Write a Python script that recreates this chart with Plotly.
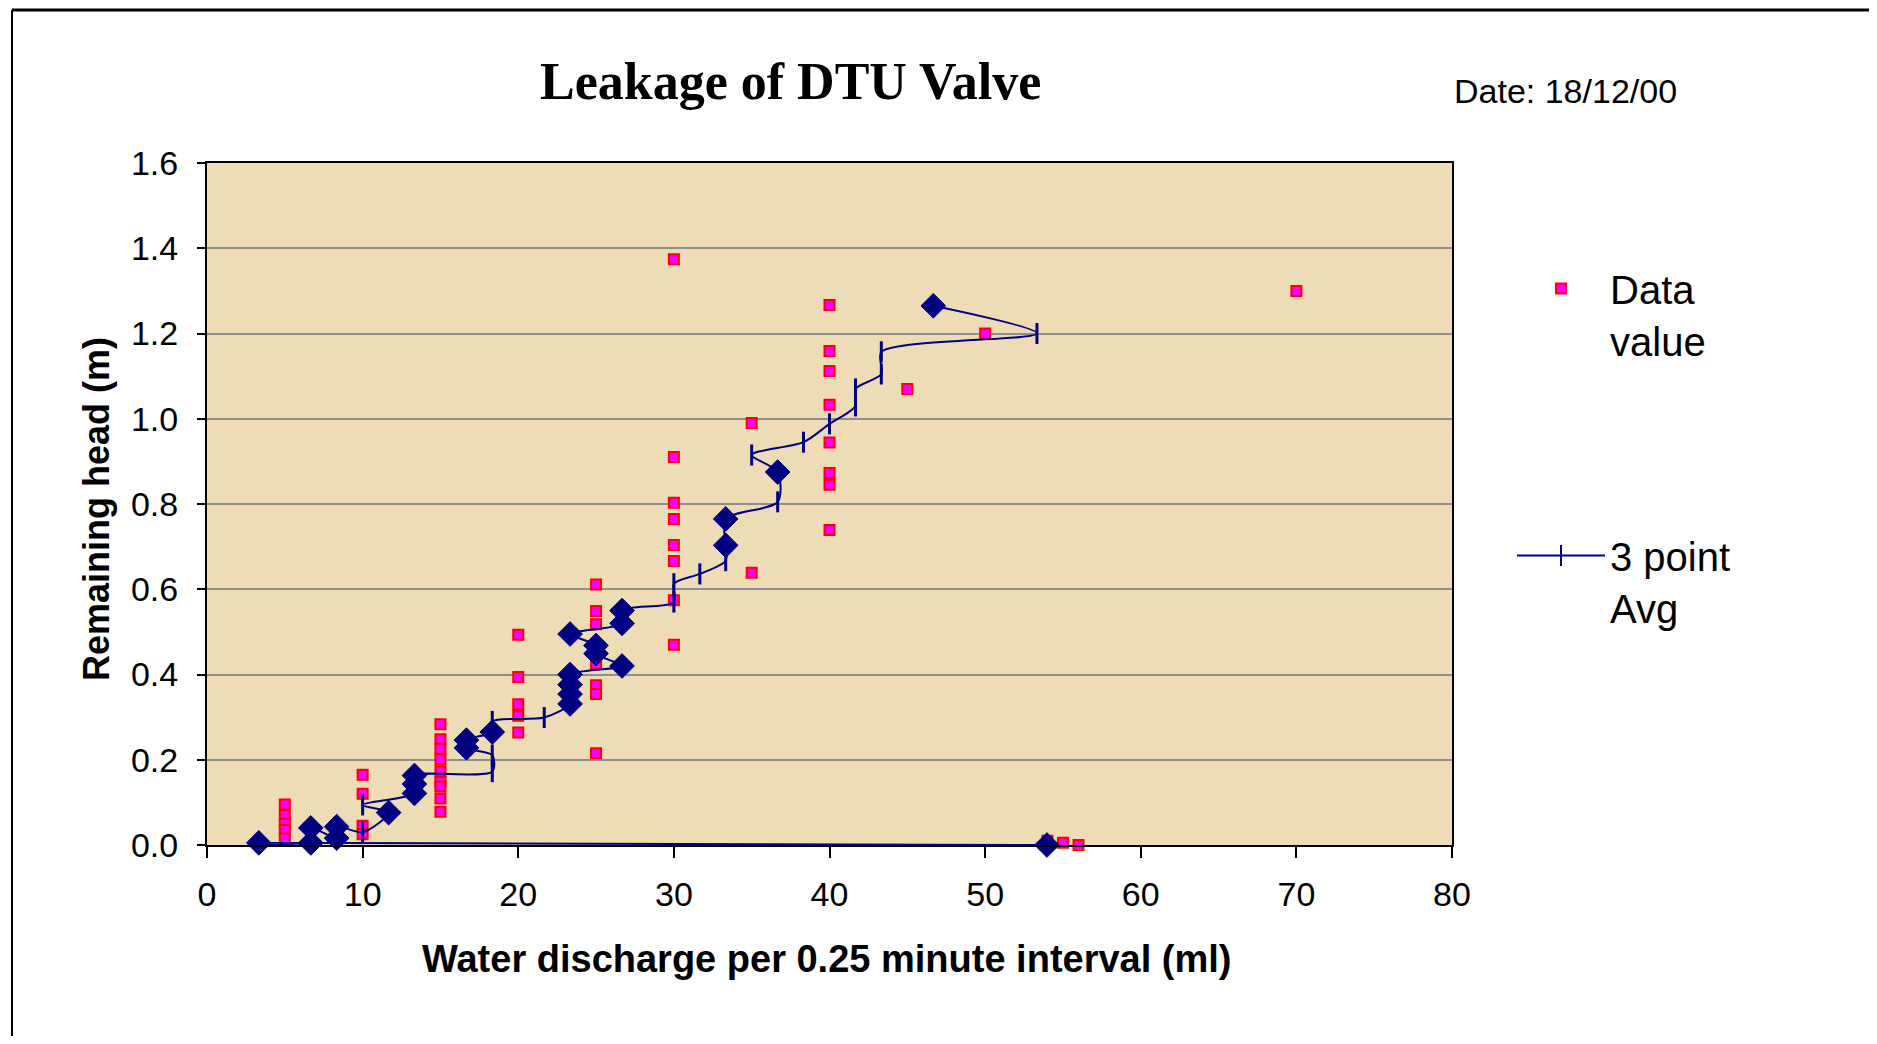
import plotly.graph_objects as go

# ---------------- data ----------------
# "Data value" series (discharge ml, remaining head m)
data_x = [5, 5, 5, 5, 5,
          10, 10, 10, 10,
          15, 15, 15, 15, 15, 15, 15, 15, 15,
          20, 20, 20, 20, 20,
          25, 25, 25, 25, 25, 25, 25,
          30, 30, 30, 30, 30, 30, 30, 30,
          35, 35,
          40, 40, 40, 40, 40, 40, 40, 40,
          45, 50, 54, 55, 56, 70]
data_y = [0.095, 0.070, 0.050, 0.035, 0.015,
          0.165, 0.120, 0.045, 0.025,
          0.283, 0.248, 0.226, 0.201, 0.173, 0.148, 0.137, 0.109, 0.078,
          0.493, 0.394, 0.330, 0.303, 0.264,
          0.611, 0.549, 0.518, 0.424, 0.375, 0.354, 0.215,
          1.374, 0.910, 0.803, 0.765, 0.704, 0.666, 0.574, 0.470,
          0.990, 0.639,
          1.267, 1.159, 1.112, 1.033, 0.944, 0.873, 0.845, 0.739,
          1.070, 1.200, 0.010, 0.005, 0.000, 1.300]

# "3 point Avg" series, in sequence order
avg_x = [46.67, 53.33, 43.33, 43.33, 41.67, 41.67, 40.00, 38.33, 35.00, 36.67,
         36.67, 33.33, 33.33, 33.33, 31.67, 30.00, 30.00, 26.67, 26.67, 23.33,
         25.00, 25.00, 26.67, 23.33, 23.33, 23.33, 23.33, 21.67, 18.33, 18.33,
         16.67, 16.67, 18.33, 18.33, 13.33, 13.33, 13.33, 10.00, 11.67, 10.00,
         8.33, 8.33, 6.67, 6.67, 3.33, 53.97]
avg_y = [1.265, 1.200, 1.157, 1.105, 1.070, 1.030, 0.988, 0.945, 0.915, 0.875,
         0.805, 0.765, 0.703, 0.667, 0.636, 0.613, 0.570, 0.550, 0.520, 0.495,
         0.468, 0.449, 0.420, 0.400, 0.376, 0.354, 0.331, 0.299, 0.290, 0.265,
         0.246, 0.228, 0.211, 0.172, 0.163, 0.143, 0.121, 0.094, 0.076, 0.030,
         0.043, 0.016, 0.040, 0.005, 0.005, 0.000]
# point kind: 'h' = highlighted point (diamond), 'n' = normal point
avg_kind = ['h', 'n', 'n', 'n', 'n', 'n', 'n', 'n', 'n', 'h',
            'n', 'h', 'h', 'n', 'n', 'n', 'n', 'h', 'h', 'h',
            'h', 'h', 'h', 'h', 'h', 'h', 'h', 'n', 'n', 'h',
            'h', 'h', 'n', 'n', 'h', 'h', 'h', 'n', 'h', 'n',
            'h', 'h', 'h', 'h', 'h', 'h']

x_ticks = [0, 10, 20, 30, 40, 50, 60, 70, 80]
y_ticks = [0.0, 0.2, 0.4, 0.6, 0.8, 1.0, 1.2, 1.4, 1.6]

# ---------------- style ----------------
NAVY = "#000080"
SANS = "Liberation Sans, Arial, sans-serif"
SERIF = "Liberation Serif, Times New Roman, serif"

OFF = 8                     # page body margin
W, H = 1877 - 2 * OFF, 1044 - 2 * OFF
L, R, T, B = 207 - OFF, 1452 - OFF, 163 - OFF, 845 - OFF  # plot area (figure px)


def px_x(p):                # page px -> paper
    return (p - OFF - L) / (R - L)


def px_y(p):
    return (B - (p - OFF)) / (B - T)


symbols = ['diamond' if k == 'h' else 'line-ns' for k in avg_kind]
sizes = [19 if k == 'h' else 15 for k in avg_kind]
lwidths = [1 if k == 'h' else 3 for k in avg_kind]

fig = go.Figure()

fig.add_trace(go.Scatter(
    x=data_x, y=data_y, mode='markers', name='Data<br>value',
    marker=dict(symbol='square', size=10, color='#FF00FF',
                line=dict(color='#FF0000', width=2)),
    cliponaxis=False, legendgroup='a', showlegend=True,
))

fig.add_trace(go.Scatter(
    x=avg_x, y=avg_y, mode='lines+markers', name='3 point<br>Avg',
    line=dict(color=NAVY, width=2, shape='spline', smoothing=0.8),
    marker=dict(symbol=symbols, size=sizes, color=NAVY, opacity=1,
                line=dict(color=NAVY, width=lwidths)),
    cliponaxis=False, showlegend=False,
))

# legend entry for the average line
fig.add_trace(go.Scatter(
    x=[None], y=[None], mode='lines+markers', name='3 point<br>Avg',
    line=dict(color=NAVY, width=2),
    marker=dict(symbol='line-ns', size=15, color=NAVY,
                line=dict(color=NAVY, width=2)),
    legendgroup='b', showlegend=True,
))

axis_common = dict(
    showline=True, linecolor='black', linewidth=2, mirror=True,
    ticks='outside', tickcolor='black', tickwidth=2,
    tickfont=dict(family=SANS, size=34, color='black'),
    zeroline=False,
)

fig.update_xaxes(
    range=[0, 80], tickvals=x_ticks, ticklen=11, showgrid=False,
    ticklabelstandoff=7, **axis_common)
fig.update_yaxes(
    range=[0, 1.6], tickvals=y_ticks, tickformat='.1f', ticklen=8,
    showgrid=True, gridcolor='#8E8E8E', gridwidth=1.5,
    ticklabelstandoff=12, **axis_common)

fig.update_layout(
    width=W, height=H,
    margin=dict(l=L, r=W - R, t=T, b=H - B, pad=0),
    paper_bgcolor='white', plot_bgcolor='#EEDCB6',
    font=dict(family=SANS, color='black'),
    showlegend=True,
    legend=dict(
        x=px_x(1512), y=px_y(256), xanchor='left', yanchor='top',
        font=dict(family=SANS, size=40, color='black'),
        valign='top', tracegroupgap=160, bgcolor='rgba(0,0,0,0)',
        itemwidth=88,
    ),
    annotations=[
        dict(text='<b>Leakage of DTU Valve</b>', x=px_x(790), y=px_y(81),
             xref='paper', yref='paper', showarrow=False,
             xanchor='center', yanchor='middle',
             font=dict(family=SERIF, size=52, color='black')),
        dict(text='Date: 18/12/00', x=px_x(1452), y=px_y(91),
             xref='paper', yref='paper', showarrow=False,
             xanchor='left', yanchor='middle',
             font=dict(family=SANS, size=34, color='black')),
        dict(text='<b>Water discharge per 0.25 minute interval (ml)</b>',
             x=px_x(827), y=px_y(959), xref='paper', yref='paper',
             showarrow=False, xanchor='center', yanchor='middle',
             font=dict(family=SANS, size=38, color='black')),
        dict(text='<b>Remaining head (m)</b>', x=px_x(96), y=px_y(509),
             xref='paper', yref='paper', showarrow=False, textangle=-90,
             xanchor='center', yanchor='middle',
             font=dict(family=SANS, size=36, color='black')),
    ],
    shapes=[
        dict(type='line', xref='paper', yref='paper',
             x0=px_x(12), x1=px_x(1877 + 10), y0=px_y(OFF + 2), y1=px_y(OFF + 2),
             line=dict(color='black', width=3)),
        dict(type='line', xref='paper', yref='paper',
             x0=px_x(12), x1=px_x(12), y0=px_y(OFF + 2), y1=px_y(1044 + 10),
             line=dict(color='black', width=2)),
    ],
)

fig.write_html("out.html")
